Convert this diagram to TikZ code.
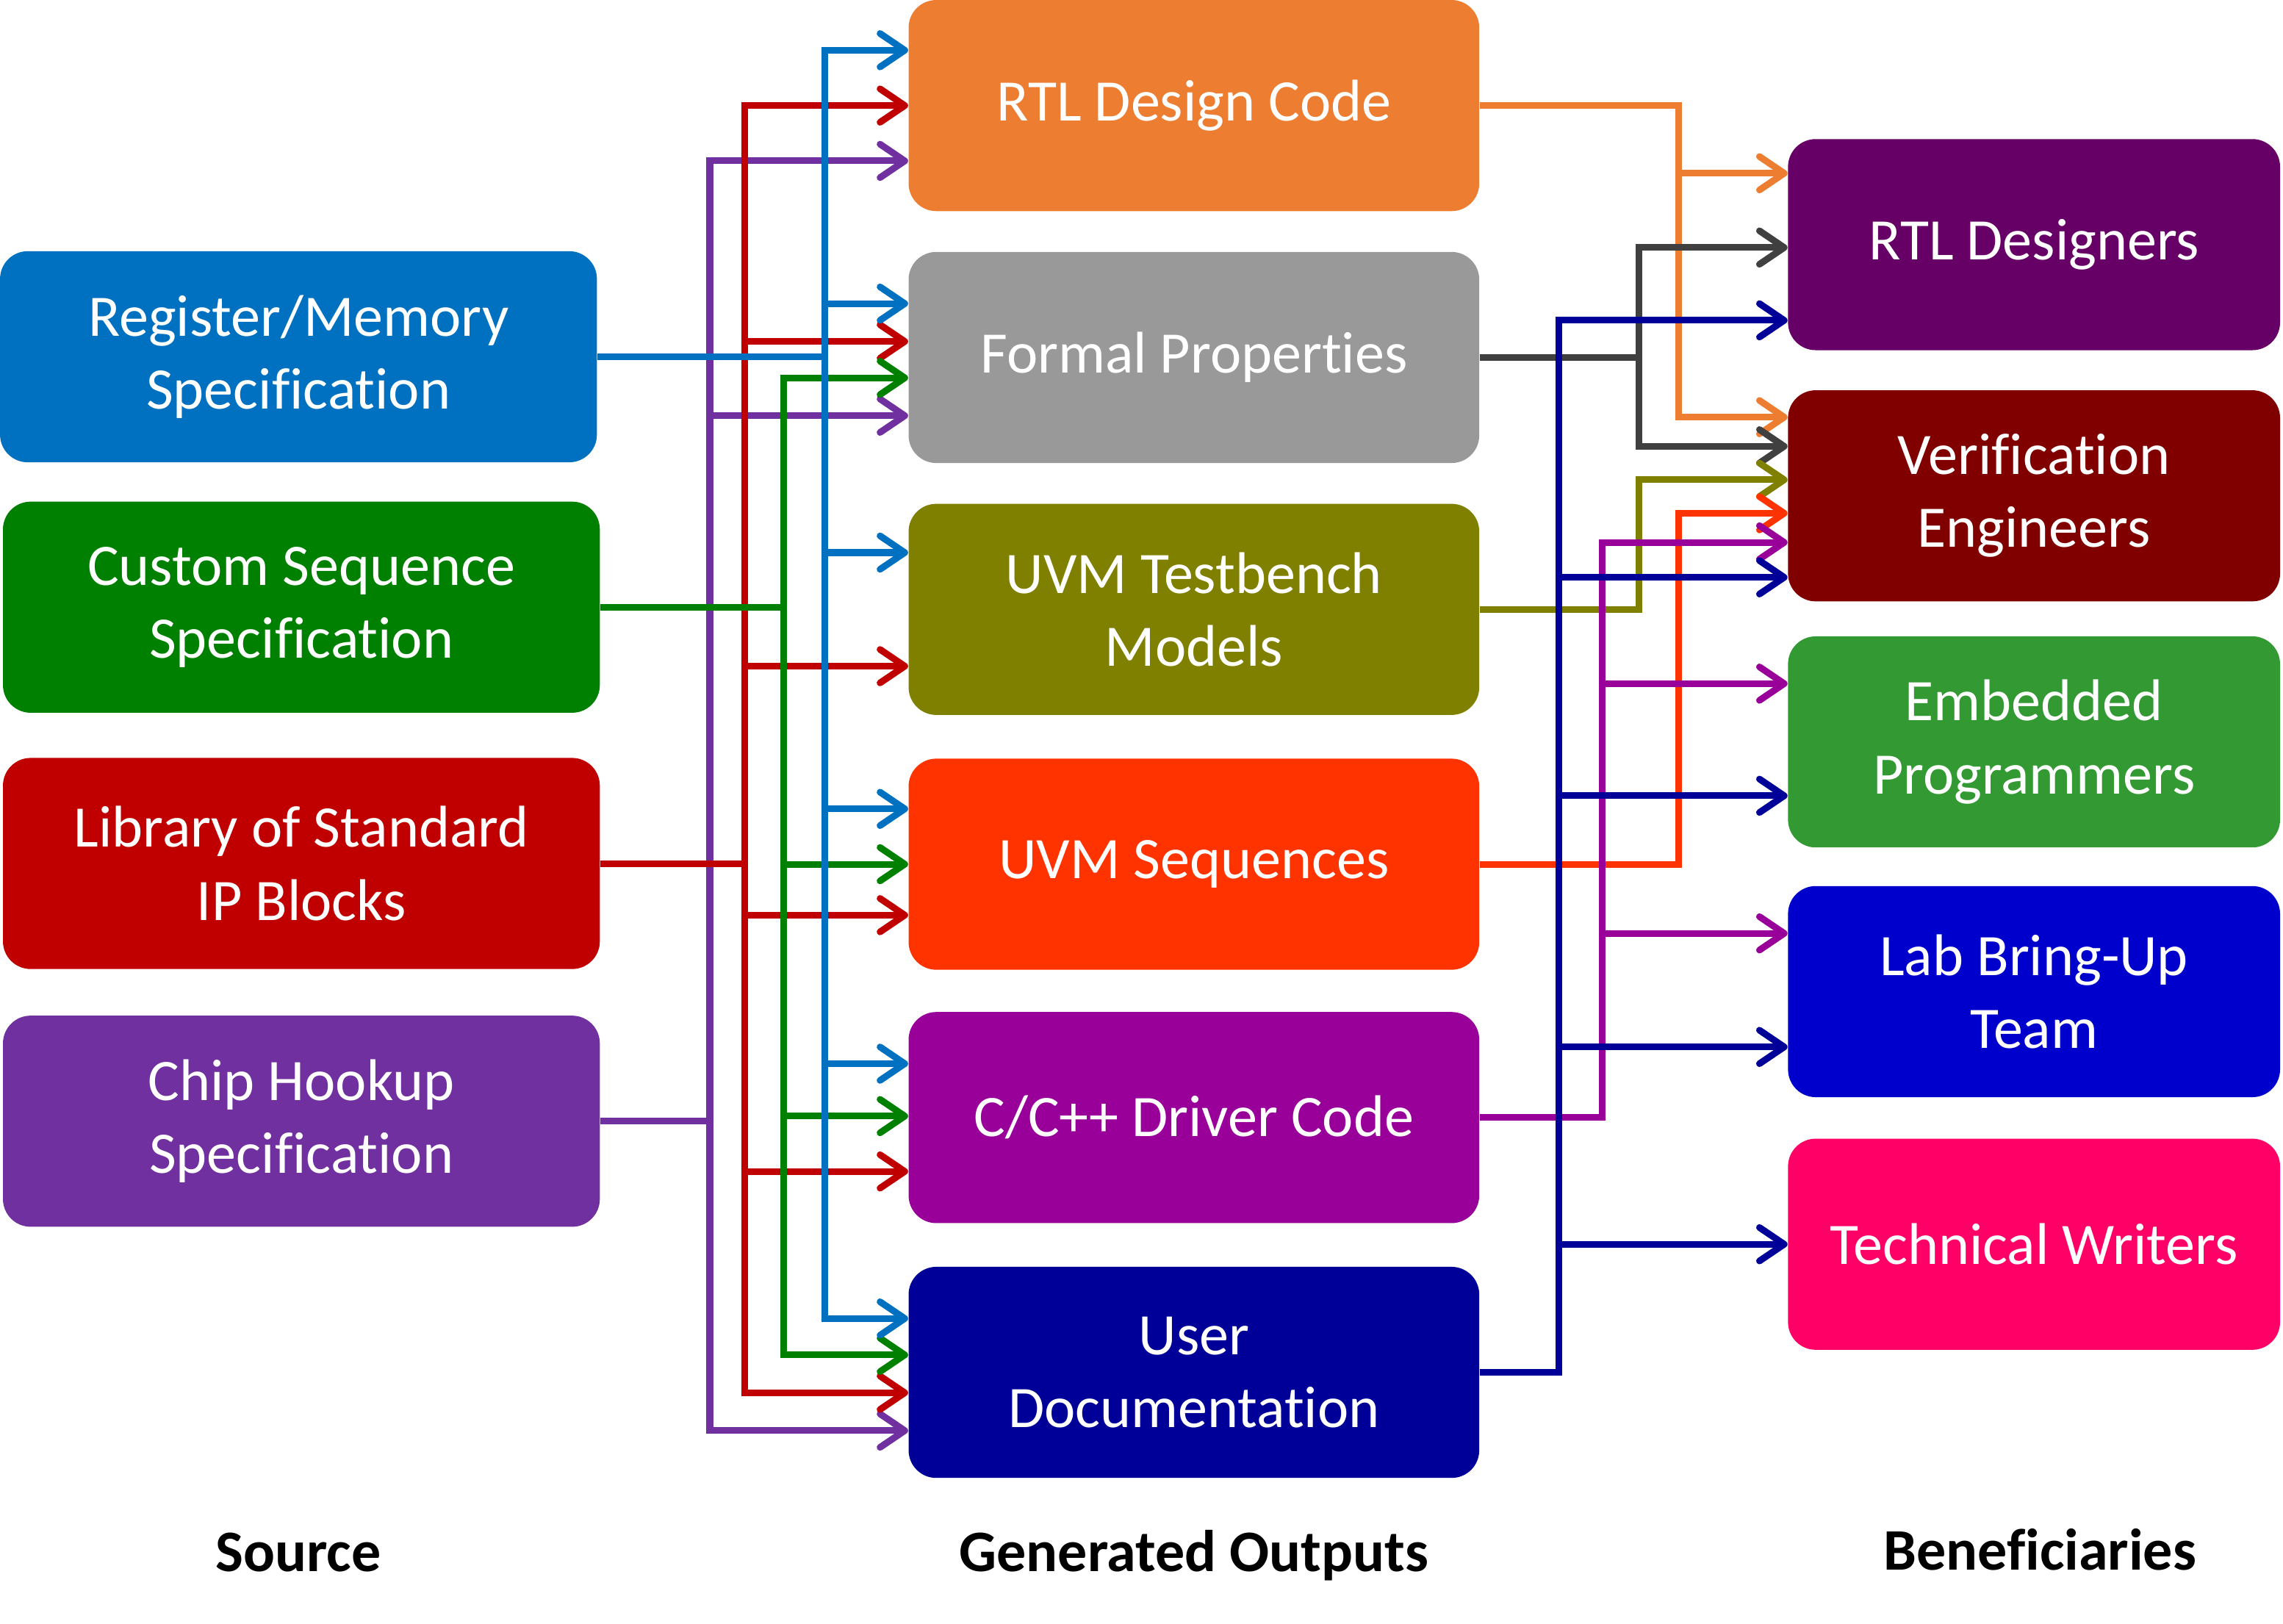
\documentclass[tikz,border=0pt]{standalone}
\usepackage{fontspec}
\setmainfont{Carlito}[Ligatures={NoCommon,NoRequired,NoContextual},Contextuals=NoAlternate]
\usetikzlibrary{arrows.meta,calc}

\definecolor{regblue}{RGB}{0,112,192}
\definecolor{seqgreen}{RGB}{0,128,0}
\definecolor{libred}{RGB}{192,0,0}
\definecolor{chippurple}{RGB}{112,48,160}
\definecolor{rtlorange}{RGB}{237,125,49}
\definecolor{formalgray}{RGB}{153,153,153}
\definecolor{formalwire}{RGB}{64,64,64}
\definecolor{tbolive}{RGB}{128,128,0}
\definecolor{uvmred}{RGB}{255,51,0}
\definecolor{drvmagenta}{RGB}{153,0,153}
\definecolor{docnavy}{RGB}{0,0,153}
\definecolor{desplum}{RGB}{102,0,102}
\definecolor{vermaroon}{RGB}{128,0,0}
\definecolor{embgreen}{RGB}{51,153,51}
\definecolor{labblue}{RGB}{0,0,204}
\definecolor{techpink}{RGB}{255,0,102}

\tikzset{
  box/.style={rectangle, rounded corners=0.38cm, minimum height=2.9cm, inner sep=0pt,
    text=white, align=center, font=\fontsize{23}{28.5}\selectfont},
  srcbox/.style={box, minimum width=8.2cm},
  outbox/.style={box, minimum width=7.84cm},
  benbox/.style={box, minimum width=6.76cm},
  link/.style={line width=2.6pt, -{Straight Barb[length=3.4mm,width=4.6mm,round]}},
  heading/.style={anchor=base, font=\fontsize{23}{28.5}\selectfont\bfseries}
}

\begin{document}
\begin{tikzpicture}[x=0.02cm,y=-0.02cm]
	\useasboundingbox (0,0) rectangle (1568,1115);
	% Source column
	\node[srcbox,fill=regblue] (regmem) at (205,245) {Register/Memory\\Specification};
	\node[srcbox,fill=seqgreen] (custseq) at (207,417) {Custom Sequence\\Specification};
	\node[srcbox,fill=libred] (libstd) at (207,593) {Library of Standard\\IP Blocks};
	\node[srcbox,fill=chippurple] (chiphook) at (207,770) {Chip Hookup\\Specification};
	% Generated outputs column
	\node[outbox,fill=rtlorange] (rtl) at (820,72.5) {RTL Design Code};
	\node[outbox,fill=formalgray] (formal) at (820,245.5) {Formal Properties};
	\node[outbox,fill=tbolive] (uvmtb) at (820,418.5) {UVM Testbench\\Models};
	\node[outbox,fill=uvmred] (uvmseq) at (820,593.5) {UVM Sequences};
	\node[outbox,fill=drvmagenta] (driver) at (820,767.5) {C/C++ Driver Code};
	\node[outbox,fill=docnavy] (userdoc) at (820,942.5) {User\\Documentation};
	% Beneficiaries column
	\node[benbox,fill=desplum] (rtldes) at (1397,168) {RTL Designers};
	\node[benbox,fill=vermaroon] (verif) at (1397,340.5) {Verification\\Engineers};
	\node[benbox,fill=embgreen] (embed) at (1397,509.5) {Embedded\\Programmers};
	\node[benbox,fill=labblue] (lab) at (1397,681) {Lab Bring-Up\\Team};
	\node[benbox,fill=techpink] (tech) at (1397,854.5) {Technical Writers};
	% Column headings
	\node[heading] (srclbl) at (205,1079) {Source};
	\node[heading] (outlbl) at (820,1079) {Generated Outputs};
	\node[heading] (benlbl) at (1401,1078) {Beneficiaries};
	% Buses
	\coordinate (buschip) at (487.5,0);
	\coordinate (buslib) at (511.5,0);
	\coordinate (busseq) at (538,0);
	\coordinate (busreg) at (566.5,0);
	\coordinate (busdoc) at (1070.5,0);
	\coordinate (busdrv) at (1100.5,0);
	\coordinate (busmid) at (1125.5,0);
	\coordinate (busfar) at (1153,0);
	% Sources to generated outputs
	\foreach \t/\d in {rtl/38, formal/40, userdoc/40}
		\draw[link,chippurple] (chiphook.east) -- (chiphook.east -| buschip) |- ($(\t.west)+(0,\d)$);
	\foreach \t/\d in {rtl/0, formal/-11, uvmtb/39, uvmseq/35, driver/37, userdoc/14}
		\draw[link,libred] (libstd.east) -- (libstd.east -| buslib) |- ($(\t.west)+(0,\d)$);
	\foreach \t/\d in {formal/14, uvmseq/0, driver/-1, userdoc/-12}
		\draw[link,seqgreen] (custseq.east) -- (custseq.east -| busseq) |- ($(\t.west)+(0,\d)$);
	\foreach \t/\d in {rtl/-38, formal/-37, uvmtb/-39, uvmseq/-38, driver/-37, userdoc/-37}
		\draw[link,regblue] (regmem.east) -- (regmem.east -| busreg) |- ($(\t.west)+(0,\d)$);
	% Generated outputs to beneficiaries
	\foreach \t/\d in {rtldes/-49, verif/-54}
		\draw[link,rtlorange] (rtl.east) -- (rtl.east -| busfar) |- ($(\t.west)+(0,\d)$);
	\foreach \t/\d in {rtldes/2, verif/-34}
		\draw[link,formalwire] (formal.east) -- (formal.east -| busmid) |- ($(\t.west)+(0,\d)$);
	\draw[link,tbolive] (uvmtb.east) -- (uvmtb.east -| busmid) |- ($(verif.west)+(0,-11)$);
	\draw[link,uvmred] (uvmseq.east) -- (uvmseq.east -| busfar) |- ($(verif.west)+(0,12)$);
	\foreach \t/\d in {verif/32, embed/-40, lab/-40}
		\draw[link,drvmagenta] (driver.east) -- (driver.east -| busdrv) |- ($(\t.west)+(0,\d)$);
	\foreach \t/\d in {rtldes/52, verif/56, embed/37, lab/38, tech/0}
		\draw[link,docnavy] (userdoc.east) -- (userdoc.east -| busdoc) |- ($(\t.west)+(0,\d)$);
\end{tikzpicture}
\end{document}
